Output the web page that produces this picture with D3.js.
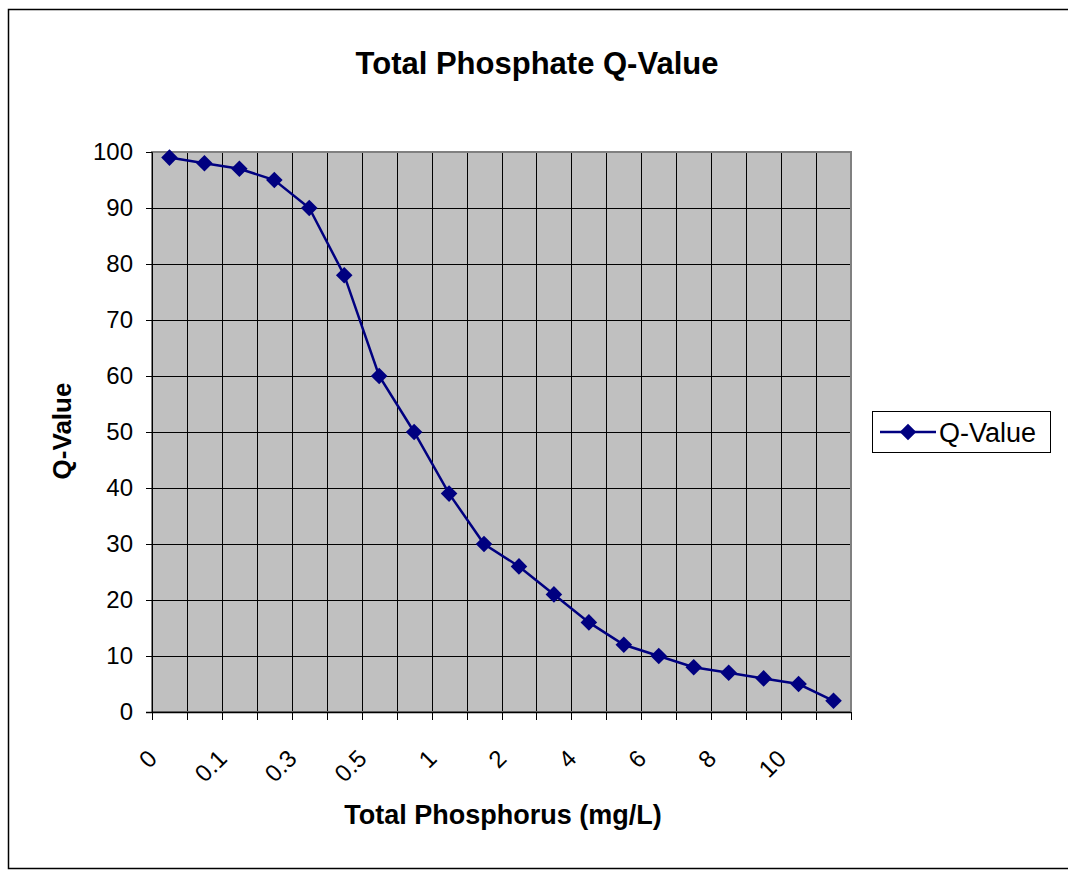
<!DOCTYPE html>
<html>
    <head>
        <meta charset="utf-8" />
        <title>Total Phosphate Q-Value</title>
        <script src="https://d3js.org/d3.v7.min.js"></script>
        <style>
            body {
                margin: 0px;
                background: white;
                font-family: "Liberation Sans", Arial, sans-serif;
            }
        </style>
    </head>
    <body>
        <svg id="chart"></svg>
        <script>

        // categories (mg/L) and their Q-values
        var phosphorus = ["0", "0.05", "0.1", "0.2", "0.3", "0.4", "0.5", "0.75", "1", "1.5",
                          "2", "3", "4", "5", "6", "7", "8", "9", "10", ">10"];
        var qValues = [99, 98, 97, 95, 90, 78, 60, 50, 39, 30,
                       26, 21, 16, 12, 10, 8, 7, 6, 5, 2];
        var yTicks = [0, 10, 20, 30, 40, 50, 60, 70, 80, 90, 100];
        var shownLabels = ["0", "0.1", "0.3", "0.5", "1", "2", "4", "6", "8", "10"];

        var width = 1068;
        var height = 873;
        var plot = {left: 152, right: 851, top: 152, bottom: 712};
        var navy = "#000080";

        var svg = d3.select("#chart")
            .attr("width", width)
            .attr("height", height);

        // outer chart frame
        svg.append("rect")
            .attr("x", 8.5)
            .attr("y", 9.5)
            .attr("width", 1070)
            .attr("height", 859)
            .attr("fill", "white")
            .attr("stroke", "black")
            .attr("stroke-width", 1.5);

        var x = d3.scaleBand()
            .domain(phosphorus)
            .range([plot.left, plot.right]);

        var y = d3.scaleLinear()
            .domain([0, 100])
            .range([plot.bottom, plot.top]);

        var xc = function(d) { return x(d) + x.bandwidth() / 2; };

        svg.append("rect")
            .attr("x", plot.left)
            .attr("y", plot.top)
            .attr("width", plot.right - plot.left)
            .attr("height", plot.bottom - plot.top)
            .attr("fill", "#c0c0c0");

        // vertical gridlines at category boundaries
        var bounds = phosphorus.slice(1).map(function(d) { return x(d); });
        svg.append("g").selectAll("line")
            .data(bounds)
            .enter().append("line")
            .attr("x1", function(d) { return Math.round(d) + 0.5; })
            .attr("x2", function(d) { return Math.round(d) + 0.5; })
            .attr("y1", plot.top)
            .attr("y2", plot.bottom)
            .attr("stroke", "black")
            .attr("stroke-width", 1);

        // horizontal gridlines
        svg.append("g").selectAll("line")
            .data(yTicks.slice(1))
            .enter().append("line")
            .attr("x1", plot.left)
            .attr("x2", plot.right)
            .attr("y1", function(d) { return Math.round(y(d)) + 0.5; })
            .attr("y2", function(d) { return Math.round(y(d)) + 0.5; })
            .attr("stroke", "black")
            .attr("stroke-width", 1);

        // plot border (gray)
        svg.append("rect")
            .attr("x", plot.left)
            .attr("y", plot.top)
            .attr("width", plot.right - plot.left)
            .attr("height", plot.bottom - plot.top)
            .attr("fill", "none")
            .attr("stroke", "#808080")
            .attr("stroke-width", 2);

        // y axis
        var yAxis = d3.axisLeft(y)
            .tickValues(yTicks)
            .tickSize(6)
            .tickPadding(13);
        var gy = svg.append("g")
            .attr("transform", "translate(" + plot.left + ",0)")
            .call(yAxis);
        gy.select(".domain").attr("stroke", "black");
        gy.selectAll(".tick line").attr("stroke", "black");
        gy.selectAll(".tick text")
            .attr("font-family", "Liberation Sans, Arial, sans-serif")
            .attr("font-size", 24)
            .attr("fill", "black");

        // x axis: ticks at category boundaries
        var edges = phosphorus.map(function(d) { return x(d); }).concat([plot.right]);
        svg.append("line")
            .attr("x1", plot.left - 6)
            .attr("x2", plot.right)
            .attr("y1", plot.bottom + 0.5)
            .attr("y2", plot.bottom + 0.5)
            .attr("stroke", "black")
            .attr("stroke-width", 1.5);
        svg.append("g").selectAll("line")
            .data(edges)
            .enter().append("line")
            .attr("x1", function(d) { return Math.round(d) + 0.5; })
            .attr("x2", function(d) { return Math.round(d) + 0.5; })
            .attr("y1", plot.bottom)
            .attr("y2", plot.bottom + 8)
            .attr("stroke", "black");

        svg.append("g").selectAll("text")
            .data(shownLabels)
            .enter().append("text")
            .attr("transform", function(d) {
                return "translate(" + (xc(d) - 11) + "," + (plot.bottom + 48) + ") rotate(-45)";
            })
            .attr("text-anchor", "end")
            .attr("font-size", 24)
            .attr("fill", "black")
            .text(function(d) { return d; });

        // series line
        var line = d3.line()
            .x(function(d, i) { return xc(phosphorus[i]); })
            .y(function(d) { return y(d); });

        svg.append("path")
            .datum(qValues)
            .attr("d", line)
            .attr("fill", "none")
            .attr("stroke", navy)
            .attr("stroke-width", 2.5);

        var diamond = d3.symbol().type(d3.symbolDiamond2).size(175);
        svg.append("g").selectAll("path")
            .data(qValues)
            .enter().append("path")
            .attr("d", diamond)
            .attr("transform", function(d, i) {
                return "translate(" + xc(phosphorus[i]) + "," + y(d) + ")";
            })
            .attr("fill", navy);

        // titles
        svg.append("text")
            .attr("x", 537)
            .attr("y", 74)
            .attr("text-anchor", "middle")
            .attr("font-size", 31)
            .attr("font-weight", "bold")
            .text("Total Phosphate Q-Value");

        svg.append("text")
            .attr("x", 503)
            .attr("y", 824)
            .attr("text-anchor", "middle")
            .attr("font-size", 27)
            .attr("font-weight", "bold")
            .text("Total Phosphorus (mg/L)");

        svg.append("text")
            .attr("transform", "translate(71,431) rotate(-90)")
            .attr("text-anchor", "middle")
            .attr("font-size", 26)
            .attr("font-weight", "bold")
            .text("Q-Value");

        // legend
        var legend = svg.append("g").attr("transform", "translate(872,411)");
        legend.append("rect")
            .attr("x", 0.5)
            .attr("y", 0.5)
            .attr("width", 178)
            .attr("height", 41)
            .attr("fill", "white")
            .attr("stroke", "black");
        legend.append("line")
            .attr("x1", 8)
            .attr("x2", 64)
            .attr("y1", 21)
            .attr("y2", 21)
            .attr("stroke", navy)
            .attr("stroke-width", 2.5);
        legend.append("path")
            .attr("d", diamond)
            .attr("transform", "translate(36,21)")
            .attr("fill", navy);
        legend.append("text")
            .attr("x", 67)
            .attr("y", 31)
            .attr("font-size", 27)
            .text("Q-Value");

        </script>
    </body>
</html>
